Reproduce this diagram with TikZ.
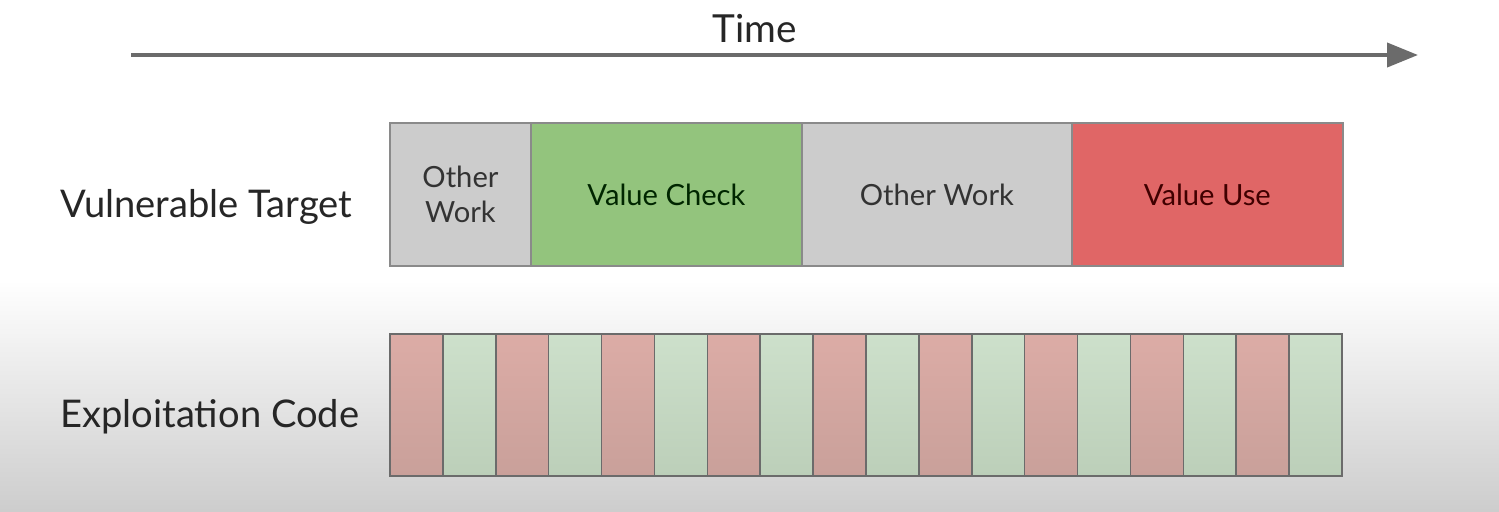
\documentclass[tikz,border=0pt]{standalone}
\usepackage{fontspec}
\setmainfont{Lato}
\usetikzlibrary{arrows.meta,positioning}

\definecolor{boxgray}{HTML}{CCCCCC}
\definecolor{chkgreen}{HTML}{93C47D}
\definecolor{usered}{HTML}{E06666}
\definecolor{edgegray}{HTML}{8A8A8A}
\definecolor{arrowgray}{HTML}{6B6B6B}
\definecolor{bggray}{HTML}{CDCDCD}
\definecolor{redtop}{HTML}{DCACA6}
\definecolor{redbot}{HTML}{C9A09A}
\definecolor{greentop}{HTML}{CDE0CB}
\definecolor{greenbot}{HTML}{BCCFB9}

\tikzset{
  rowlabel/.style={anchor=west, inner sep=0pt, text=black!85, font=\fontsize{21.7}{26}\selectfont},
  work/.style={draw=edgegray, line width=0.8pt, outer sep=0pt, inner sep=0pt,
    minimum height=2.86cm, align=center, font=\fontsize{16.6}{19.8}\selectfont},
  stripe/.style={draw=black!58, line width=0.9pt, outer sep=0pt, inner sep=0pt,
    minimum width=1.0578cm, minimum height=2.84cm, anchor=north west}
}

\begin{document}
\begin{tikzpicture}[x=0.02cm,y=-0.02cm]
\useasboundingbox (0,0) rectangle (1499,511);
\fill[white] (0,0) rectangle (1499,280);
\shade[top color=white,bottom color=bggray] (0,280) rectangle (1499,511);

\coordinate (t0) at (131,55);
\coordinate (t1) at (1418,55);
\draw[arrowgray, line width=2.3pt, -{Triangle[length=0.62cm,width=0.48cm]}] (t0) -- (t1);
\node (time) at (755,29) [text=black!85, font=\fontsize{22}{26}\selectfont] {Time};

\node (lTarget) at (60,207) [rowlabel] {Vulnerable Target};
\node (lCode) at (60,417) [rowlabel] {Exploitation Code};

\node (b0) at (390,123) [work, anchor=north west, fill=boxgray, minimum width=2.82cm, text=black!80] {Other\\Work};
\node (b1) [work, right=0pt of b0, fill=chkgreen, minimum width=5.42cm, text=green!15!black] {Value Check};
\node (b2) [work, right=0pt of b1, fill=boxgray, minimum width=5.4cm, text=black!80] {Other Work};
\node (b3) [work, right=0pt of b2, fill=usered, minimum width=5.42cm, text=red!25!black] {Value Use};

\foreach \i in {0,...,17} {
\ifodd\i
\node (s\i) at ({390+52.889*\i},334) [stripe, top color=greentop, bottom color=greenbot] {};
\else
\node (s\i) at ({390+52.889*\i},334) [stripe, top color=redtop, bottom color=redbot] {};
\fi
}
\end{tikzpicture}
\end{document}
